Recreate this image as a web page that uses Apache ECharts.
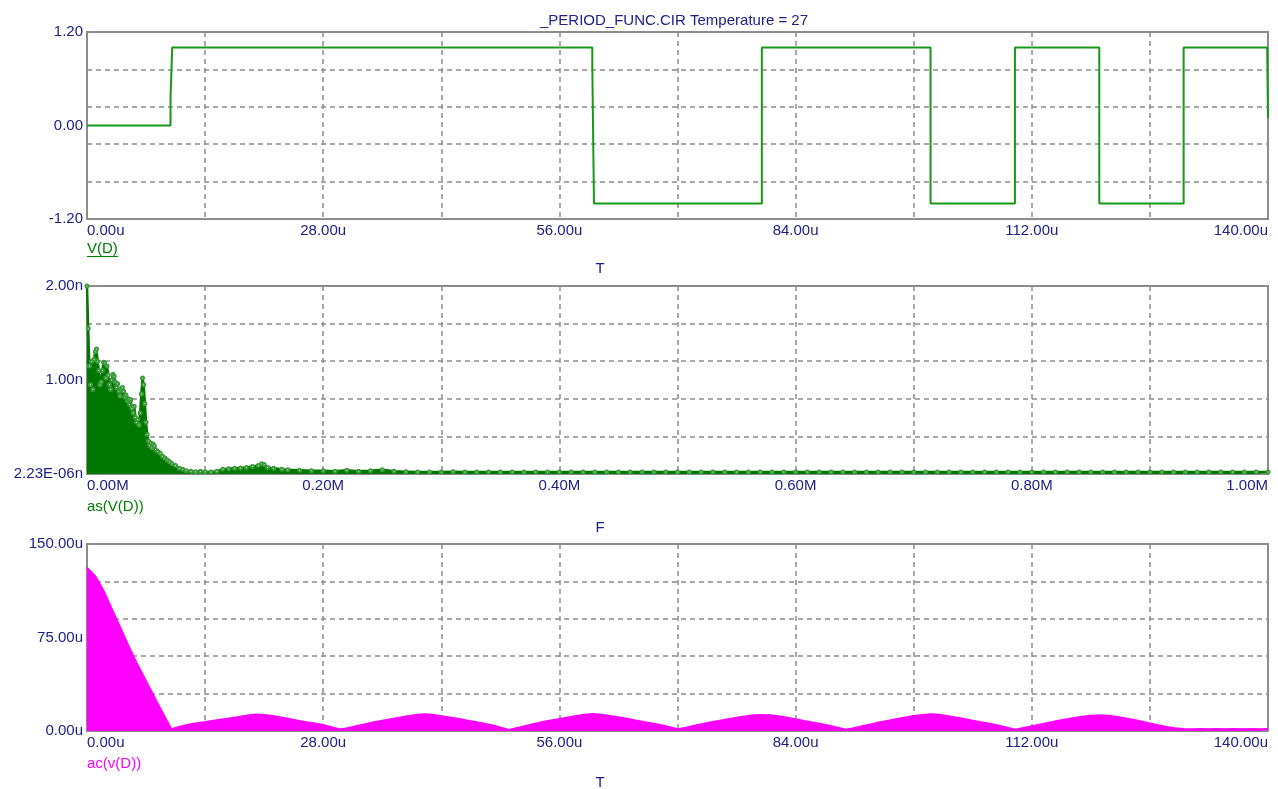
<!DOCTYPE html>
<html>
<head>
<meta charset="utf-8">
<script src="https://cdn.jsdelivr.net/npm/echarts@6/dist/echarts.min.js"></script>
<style>
html,body{margin:0;padding:0;background:#fff;}
#chart{width:1278px;height:789px;}
</style>
</head>
<body>
<div id="chart"></div>
<script>
// ---------------- DATA ----------------
const chartTitle = '_PERIOD_FUNC.CIR Temperature = 27';

// Top plot: V(D) vs T (time in u)
const vdTime  = [0, 9.9, 9.9, 10.1, 10.1, 59.9, 59.9, 60.1, 60.1, 80, 80, 100, 100, 110, 110, 120, 120, 130, 130, 139.9, 140];
const vdValue = [0, 0, 0.35, 0.35, 1.0, 1.0, 0.75, 0.75, -1.0, -1.0, 1.0, 1.0, -1.0, -1.0, 1.0, 1.0, -1.0, -1.0, 1.0, 1.0, 0.1];

// Middle plot: as(V(D)) vs F (frequency in M, magnitude in n)
const asFreq = [0.000, 0.001, 0.002, 0.003, 0.004, 0.005, 0.006, 0.007, 0.008, 0.009,
  0.010, 0.011, 0.012, 0.013, 0.014, 0.015, 0.016, 0.017, 0.018, 0.019,
  0.020, 0.021, 0.022, 0.023, 0.024, 0.025, 0.026, 0.027, 0.028, 0.029,
  0.030, 0.031, 0.032, 0.033, 0.034, 0.035, 0.036, 0.037, 0.038, 0.039,
  0.040, 0.041, 0.042, 0.043, 0.044, 0.045, 0.046, 0.047, 0.048, 0.049,
  0.050, 0.051, 0.052, 0.053, 0.054, 0.055, 0.056, 0.057, 0.058, 0.060,
  0.062, 0.064, 0.066, 0.068, 0.070, 0.072, 0.075, 0.078, 0.081, 0.084,
  0.088, 0.092, 0.096, 0.100, 0.105, 0.110, 0.115, 0.120, 0.125, 0.130,
  0.135, 0.140, 0.145, 0.148, 0.150, 0.153, 0.158, 0.165, 0.170, 0.180,
  0.190, 0.200, 0.210, 0.220, 0.230, 0.240, 0.250, 0.260, 0.270, 0.280,
  0.290, 0.300, 0.310, 0.320, 0.330, 0.340, 0.350, 0.360, 0.370, 0.380,
  0.390, 0.400, 0.410, 0.420, 0.430, 0.440, 0.450, 0.460, 0.470, 0.480,
  0.490, 0.500, 0.510, 0.520, 0.530, 0.540, 0.550, 0.560, 0.570, 0.580,
  0.590, 0.600, 0.610, 0.620, 0.630, 0.640, 0.650, 0.660, 0.670, 0.680,
  0.690, 0.700, 0.710, 0.720, 0.730, 0.740, 0.750, 0.760, 0.770, 0.780,
  0.790, 0.800, 0.810, 0.820, 0.830, 0.840, 0.850, 0.860, 0.870, 0.880,
  0.890, 0.900, 0.910, 0.920, 0.930, 0.940, 0.950, 0.960, 0.970, 0.980,
  0.990, 1.000];
const asMag = [2.00, 1.55, 1.15, 0.95, 1.20, 0.90, 1.22, 1.30, 1.33, 1.20,
  1.10, 0.95, 0.98, 1.10, 1.19, 1.18, 1.02, 1.15, 1.05, 0.95,
  0.90, 1.00, 1.06, 1.04, 0.98, 0.92, 0.96, 0.88, 0.83, 0.90,
  0.92, 0.88, 0.82, 0.84, 0.78, 0.80, 0.74, 0.79, 0.70, 0.65,
  0.72, 0.60, 0.55, 0.58, 0.52, 0.65, 0.85, 1.02, 0.95, 0.75,
  0.55, 0.42, 0.35, 0.30, 0.33, 0.28, 0.32, 0.30, 0.26, 0.24,
  0.22, 0.19, 0.17, 0.15, 0.13, 0.11, 0.09, 0.06, 0.05, 0.035,
  0.03, 0.025, 0.03, 0.025, 0.02, 0.03, 0.05, 0.055, 0.06, 0.065,
  0.07, 0.08, 0.09, 0.11, 0.10, 0.07, 0.06, 0.05, 0.045, 0.04,
  0.035, 0.035, 0.03, 0.04, 0.03, 0.035, 0.045, 0.03, 0.025, 0.02,
  0.02, 0.02, 0.025, 0.02, 0.02, 0.02, 0.02, 0.02, 0.02, 0.02,
  0.02, 0.02, 0.02, 0.02, 0.02, 0.02, 0.02, 0.02, 0.02, 0.02,
  0.02, 0.02, 0.02, 0.02, 0.02, 0.02, 0.02, 0.02, 0.02, 0.02,
  0.02, 0.02, 0.02, 0.02, 0.02, 0.02, 0.02, 0.02, 0.02, 0.02,
  0.02, 0.02, 0.02, 0.02, 0.02, 0.02, 0.02, 0.02, 0.02, 0.02,
  0.02, 0.02, 0.02, 0.02, 0.02, 0.02, 0.02, 0.02, 0.02, 0.02,
  0.02, 0.02, 0.02, 0.02, 0.02, 0.02, 0.02, 0.02, 0.02, 0.02,
  0.02, 0.02];

// Bottom plot: ac(v(D)) vs T (time in u, value in u)
const acTime = [0, 1, 2, 3, 4, 5, 6, 7, 8, 9, 10, 11, 12, 13, 14, 15, 16, 17, 18, 19,
  20, 21, 22, 23, 24, 25, 26, 27, 28, 29, 30, 31, 32, 33, 34, 35, 36, 37, 38, 39,
  40, 41, 42, 43, 44, 45, 46, 47, 48, 49, 50, 51, 52, 53, 54, 55, 56, 57, 58, 59,
  60, 61, 62, 63, 64, 65, 66, 67, 68, 69, 70, 71, 72, 73, 74, 75, 76, 77, 78, 79,
  80, 81, 82, 83, 84, 85, 86, 87, 88, 89, 90, 91, 92, 93, 94, 95, 96, 97, 98, 99,
  100, 101, 102, 103, 104, 105, 106, 107, 108, 109, 110, 111, 112, 113, 114, 115, 116, 117, 118, 119,
  120, 121, 122, 123, 124, 125, 126, 127, 128, 129, 130, 131, 132, 133, 134, 135, 136, 137, 138, 139, 140];
const acValue = [131, 124, 112, 97, 82, 67, 53, 40, 27, 14, 1.5, 3.5, 5.0, 6.2, 7.2, 8.3, 9.3, 10.2, 11.3, 12.4,
  13.3, 12.9, 12.0, 10.8, 9.6, 8.2, 7.0, 6.0, 4.8, 3.0, 1.2, 2.5, 4.0, 5.5, 7.0, 8.3, 9.5, 10.7, 11.8, 12.8,
  13.4, 13.0, 11.9, 10.9, 9.8, 8.4, 7.2, 6.0, 4.6, 2.8, 0.8, 2.4, 4.0, 5.6, 7.2, 8.4, 9.6, 10.8, 12.0, 13.0,
  13.6, 13.1, 12.1, 11.0, 9.8, 8.5, 7.2, 6.1, 4.8, 3.2, 1.4, 2.6, 4.2, 5.7, 7.1, 8.3, 9.5, 10.6, 11.7, 12.6,
  12.9, 12.6, 11.8, 10.6, 9.4, 8.1, 6.9, 5.6, 4.3, 2.7, 1.0, 2.5, 4.1, 5.5, 7.0, 8.3, 9.6, 10.8, 12.0, 12.9,
  13.4, 13.0, 12.0, 10.9, 9.7, 8.3, 7.1, 5.8, 4.5, 2.9, 1.0, 2.4, 3.9, 5.3, 6.7, 8.0, 9.2, 10.4, 11.5, 12.3,
  12.6, 12.2, 11.4, 10.3, 9.0, 7.6, 6.0, 4.6, 3.3, 2.2, 1.6, 1.5, 1.7, 1.4, 1.6, 1.5, 1.7, 1.4, 1.6, 1.5, 1.6];

// Tick labels
const tTickVals = [0, 28, 56, 84, 112, 140];
const tTickLabels = ['0.00u', '28.00u', '56.00u', '84.00u', '112.00u', '140.00u'];
const fTickVals = [0, 0.2, 0.4, 0.6, 0.8, 1.0];
const fTickLabels = ['0.00M', '0.20M', '0.40M', '0.60M', '0.80M', '1.00M'];
const vdTickVals = [-1.2, 0, 1.2];
const vdTickLabels = ['-1.20', '0.00', '1.20'];
const asTickVals = [0, 1, 2];
const asTickLabels = ['2.23E-06n', '1.00n', '2.00n'];
const acTickVals = [0, 75, 150];
const acTickLabels = ['0.00u', '75.00u', '150.00u'];

// ---------------- STYLE ----------------
const NAVY = '#20208a';
const GREEN = '#008000';
const MAGENTA = '#ff00ff';
const GRIDC = '#8c8c8c';
const FONT = 'Liberation Sans, Arial, sans-serif';
const FS = 15;

function zip(a, b) { return a.map((v, i) => [v, b[i]]); }
function lookup(vals, labels) {
  return function (v) {
    for (let i = 0; i < vals.length; i++) if (Math.abs(v - vals[i]) < 1e-6) return labels[i];
    return '';
  };
}

const plots = [
  { top: 32, height: 187 },
  { top: 286, height: 188 },
  { top: 544, height: 187 }
];
const grids = plots.map(p => ({
  left: 87, width: 1181, top: p.top, height: p.height,
  show: true, borderColor: GRIDC, borderWidth: 2, backgroundColor: '#fff',
  containLabel: false, outerBoundsMode: 'none'
}));

const dashed = { show: true, lineStyle: { color: GRIDC, type: [5, 4], width: 1.5 } };

function xAxis(gi, max, interval, vals, labels) {
  return {
    type: 'value', gridIndex: gi, min: 0, max: max, interval: interval, position: 'bottom',
    axisLine: { show: false }, axisTick: { show: false },
    splitLine: dashed,
    axisLabel: {
      show: true, margin: 4, color: NAVY, fontFamily: FONT, fontSize: FS,
      showMinLabel: true, showMaxLabel: true,
      alignMinLabel: 'left', alignMaxLabel: 'right',
      formatter: lookup(vals, labels)
    }
  };
}
function yGridAxis(gi, min, max, interval) {
  return {
    type: 'value', gridIndex: gi, min: min, max: max, interval: interval, position: 'left',
    axisLine: { show: false }, axisTick: { show: false },
    splitLine: dashed, axisLabel: { show: false }
  };
}
function yLabelAxis(gi, min, max, interval, vals, labels) {
  return {
    type: 'value', gridIndex: gi, min: min, max: max, interval: interval, position: 'left',
    axisLine: { show: false }, axisTick: { show: false }, splitLine: { show: false },
    axisLabel: {
      show: true, margin: 4, color: NAVY, fontFamily: FONT, fontSize: FS,
      showMinLabel: true, showMaxLabel: true,
      formatter: lookup(vals, labels)
    }
  };
}

const chart = echarts.init(document.getElementById('chart'), null, { renderer: 'canvas' });

function txt(x, y, s, color, align) {
  return { type: 'text', x: x, y: y, silent: true,
    style: { text: s, fill: color, font: FS + 'px ' + FONT, textAlign: align || 'left', textVerticalAlign: 'top' } };
}

const option = {
  animation: false,
  backgroundColor: '#fff',
  grid: grids,
  xAxis: [
    xAxis(0, 140, 14, tTickVals, tTickLabels),
    xAxis(1, 1.0, 0.1, fTickVals, fTickLabels),
    xAxis(2, 140, 14, tTickVals, tTickLabels)
  ],
  yAxis: [
    yGridAxis(0, -1.2, 1.2, 0.48),
    yLabelAxis(0, -1.2, 1.2, 1.2, vdTickVals, vdTickLabels),
    yGridAxis(1, 0, 2, 0.4),
    yLabelAxis(1, 0, 2, 1, asTickVals, asTickLabels),
    yGridAxis(2, 0, 150, 30),
    yLabelAxis(2, 0, 150, 75, acTickVals, acTickLabels)
  ],
  series: [
    {
      type: 'line', xAxisIndex: 0, yAxisIndex: 0, data: zip(vdTime, vdValue),
      showSymbol: false, lineStyle: { color: '#189818', width: 2 }, itemStyle: { color: '#189818' }
    },
    {
      type: 'line', xAxisIndex: 1, yAxisIndex: 2, data: zip(asFreq, asMag),
      symbol: 'emptyCircle', symbolSize: 3, showSymbol: true,
      lineStyle: { color: '#007800', width: 2.5 }, itemStyle: { color: '#3a9a3a', borderWidth: 0.8 },
      areaStyle: { color: '#007800', opacity: 1 }
    },
    {
      type: 'line', xAxisIndex: 2, yAxisIndex: 4, data: zip(acTime, acValue),
      showSymbol: false, lineStyle: { color: MAGENTA, width: 2 }, itemStyle: { color: MAGENTA },
      areaStyle: { color: MAGENTA, opacity: 1 }
    }
  ],
  graphic: [
    txt(674, 13, chartTitle, NAVY, 'center'),
    txt(87, 241, 'V(D)', GREEN),
    { type: 'line', silent: true, shape: { x1: 87, y1: 256.5, x2: 118, y2: 256.5 }, style: { stroke: GREEN, lineWidth: 1 } },
    txt(600, 261, 'T', NAVY, 'center'),
    txt(87, 499, 'as(V(D))', GREEN),
    txt(600, 520, 'F', NAVY, 'center'),
    txt(87, 756, 'ac(v(D))', MAGENTA),
    txt(600, 775, 'T', NAVY, 'center')
  ]
};
chart.setOption(option);
</script>
</body>
</html>
